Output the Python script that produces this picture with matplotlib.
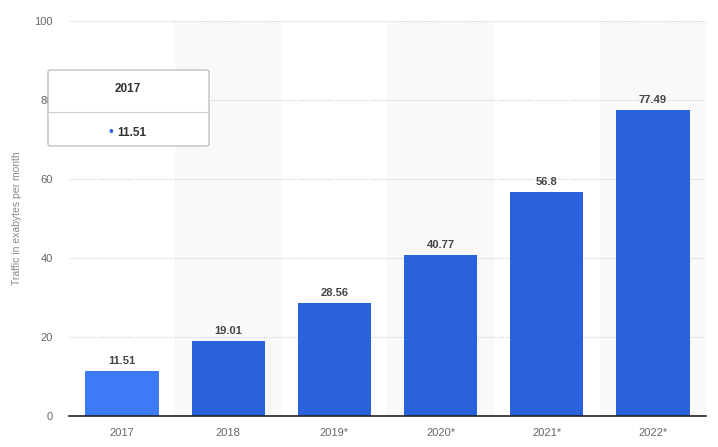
import matplotlib
matplotlib.use("Agg")
import matplotlib.pyplot as plt
from matplotlib.patches import FancyBboxPatch

plt.rcParams['font.family'] = ['Liberation Sans', 'DejaVu Sans']

categories = ["2017", "2018", "2019*", "2020*", "2021*", "2022*"]
values = [11.51, 19.01, 28.56, 40.77, 56.8, 77.49]
yticks = [0, 20, 40, 60, 80, 100]

fig = plt.figure(figsize=(7.18, 4.47), dpi=100)
ax = fig.add_axes([69/718, 31/447, 637/718, 395/447])
x = list(range(len(categories)))

for i in x:
    if i % 2 == 1:
        ax.axvspan(i - 0.5, i + 0.5, color="#f9f9f9", zorder=0, lw=0)

colors = ["#3d7af5"] + ["#2962db"] * (len(values) - 1)
ax.bar(x, values, width=0.69, color=colors, zorder=3)
for xi, v in zip(x, values):
    ax.text(xi, v + 1.2, f"{v:g}", ha="center", va="bottom", fontsize=8,
            fontweight="bold", color="#444444", zorder=4)

ax.set_xlim(-0.5, len(categories) - 0.5)
ax.set_ylim(0, 100)
ax.set_yticks(yticks)
ax.set_xticks(x)
ax.set_xticklabels(categories)
ax.grid(axis="y", linestyle=(0, (1, 1.5)), color="#c8c8c8", lw=0.8, zorder=1)
ax.tick_params(axis="both", length=0, labelsize=8, labelcolor="#666666")
ax.tick_params(axis="y", pad=11.5)
ax.tick_params(axis="x", pad=9)
for s in ["top", "right", "left"]:
    ax.spines[s].set_visible(False)
ax.spines["bottom"].set_color("#222222")
ax.spines["bottom"].set_linewidth(1.2)
ax.spines["bottom"].set_zorder(5)
ax.set_ylabel("Traffic in exabytes per month", fontsize=7.5, color="#888888")
ax.yaxis.set_label_coords((22 - 69) / 637, 0.5)

# tooltip
W, H = 718, 447
box = FancyBboxPatch((48/W, 1 - 146/H), 161/W, 76/H,
                     boxstyle="round,pad=0,rounding_size=0.004",
                     transform=fig.transFigure, facecolor="white",
                     edgecolor="#bbbbbb", lw=0.9, zorder=10)
fig.add_artist(box)
fig.add_artist(plt.Line2D([48/W, 208/W], [1 - 112/H, 1 - 112/H],
                          transform=fig.transFigure, color="#cccccc", lw=0.8, zorder=11))
fig.text(128/W, 1 - 89/H, categories[0], ha="center", va="center", fontsize=8.5,
         fontweight="bold", color="#333333", zorder=12)
fig.text(111/W, 1 - 132/H, "•", ha="center", va="center", fontsize=10,
         color="#2962db", zorder=12)
fig.text(117/W, 1 - 133/H, f"{values[0]:g}", ha="left", va="center", fontsize=8.5,
         fontweight="bold", color="#333333", zorder=12)

fig.savefig("out.png", dpi=100)
